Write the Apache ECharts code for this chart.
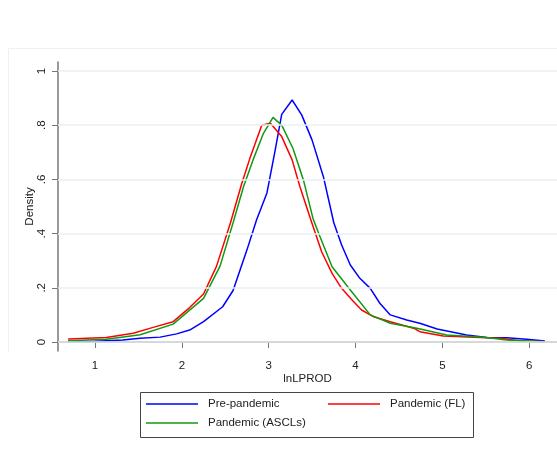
<!DOCTYPE html>
<html>
<head>
<meta charset="utf-8">
<script src="https://cdn.jsdelivr.net/npm/echarts@6/dist/echarts.min.js"></script>
<style>html,body{margin:0;padding:0;background:#fff}#c{width:557px;height:449px}</style>
</head>
<body>
<div id="c"></div>
<script>
const xTicks = [1, 2, 3, 4, 5, 6];
const yTicks = [0, 0.2, 0.4, 0.6, 0.8, 1];
const seriesNames = ['Pre-pandemic', 'Pandemic (FL)', 'Pandemic (ASCLs)'];

const preX = [0.69,1.0,1.32,1.52,1.75,1.94,2.09,2.25,2.47,2.59,2.75,2.86,2.98,3.07,3.15,3.27,3.38,3.50,3.63,3.75,3.84,3.94,4.05,4.17,4.28,4.40,4.59,4.74,4.94,5.28,5.51,5.74,5.97,6.18];
const preY = [0.002,0.003,0.007,0.014,0.018,0.03,0.044,0.075,0.13,0.19,0.34,0.45,0.55,0.70,0.84,0.893,0.838,0.745,0.61,0.44,0.358,0.284,0.235,0.198,0.143,0.10,0.081,0.069,0.048,0.026,0.017,0.016,0.01,0.004];

const flX = [0.69,1.13,1.44,1.67,1.90,2.09,2.25,2.40,2.56,2.69,2.79,2.92,3.02,3.15,3.27,3.36,3.48,3.61,3.73,3.84,3.96,4.07,4.21,4.40,4.67,4.74,5.01,5.44,5.67,5.90,6.18];
const flY = [0.011,0.017,0.032,0.054,0.075,0.127,0.177,0.28,0.44,0.585,0.684,0.80,0.807,0.758,0.672,0.573,0.456,0.333,0.253,0.198,0.155,0.118,0.093,0.075,0.051,0.038,0.022,0.017,0.014,0.004,0.001];

const ascX = [0.69,1.13,1.52,1.90,2.25,2.44,2.59,2.71,2.82,2.94,3.05,3.15,3.28,3.40,3.51,3.59,3.73,3.94,4.17,4.40,4.72,5.05,5.51,5.74,6.18];
const ascY = [0.005,0.01,0.027,0.066,0.161,0.28,0.44,0.573,0.672,0.77,0.829,0.80,0.714,0.598,0.456,0.389,0.278,0.192,0.10,0.069,0.05,0.026,0.017,0.007,0.001];

const colors = ['#0000ff', '#ff0000', '#119911'];
const FONT = 'Liberation Sans, Arial, sans-serif';

function pairs(xs, ys) { return xs.map((x, i) => [x, ys[i]]); }

const chart = echarts.init(document.getElementById('c'), null, {renderer: 'canvas'});

function legendFor(name, left, top) {
  return {
    data: [name], left: left, top: top, padding: 0, orient: 'horizontal',
    icon: 'rect', itemWidth: 52, itemHeight: 1.5, itemGap: 0,
    selectedMode: false,
    textStyle: {fontFamily: FONT, fontSize: 11.5, color: '#222', padding: [0, 0, 0, 5]}
  };
}

chart.setOption({
  animation: false,
  backgroundColor: '#ffffff',
  color: colors,
  grid: {left: 58, right: 0, top: 62, bottom: 98, containLabel: false},
  xAxis: {
    type: 'value', min: 0.574, max: 6.32,
    name: 'lnLPROD', nameLocation: 'middle', nameGap: 22, nameMoveOverlap: false,
    nameTextStyle: {fontFamily: FONT, fontSize: 11.5, color: '#222'},
    axisLine: {show: true, lineStyle: {color: '#777', width: 1.5}},
    axisTick: {show: true, customValues: xTicks, length: 6, lineStyle: {color: '#777'}},
    axisLabel: {customValues: xTicks, margin: 9, fontFamily: FONT, fontSize: 11.5, color: '#222'},
    splitLine: {show: false}
  },
  yAxis: {
    type: 'value', min: -0.0332, max: 1.0332,
    name: 'Density', nameLocation: 'middle', nameGap: 22, nameMoveOverlap: false,
    nameTextStyle: {fontFamily: FONT, fontSize: 11.5, color: '#222'},
    axisLine: {show: true, lineStyle: {color: '#777', width: 1.5}},
    axisTick: {show: true, customValues: yTicks, length: 6, lineStyle: {color: '#777'}},
    axisLabel: {
      customValues: yTicks, rotate: 90, margin: 10, fontFamily: FONT, fontSize: 11.5, color: '#222',
      formatter: function (v) {
        if (Math.abs(v) < 1e-9) return '0';
        if (Math.abs(v - 1) < 1e-9) return '1';
        return '.' + Math.round(v * 10);
      }
    },
    splitLine: {show: false}
  },
  legend: [
    legendFor(seriesNames[0], 146, 398),
    legendFor(seriesNames[1], 328, 398),
    legendFor(seriesNames[2], 146, 417)
  ],
  graphic: [
    {type: 'rect', shape: {x: 140.5, y: 392.5, width: 333, height: 45}, style: {fill: 'none', stroke: '#444', lineWidth: 1}, z: 0},
    {type: 'polyline', shape: {points: [[8.5, 352], [8.5, 48.5], [557, 48.5]]}, style: {fill: 'none', stroke: '#f0f0f0', lineWidth: 1}, z: 0}
  ],
  series: [
    {
      type: 'line', name: '_grid', data: [], z: 1, silent: true,
      markLine: {
        silent: true, symbol: 'none', animation: false,
        label: {show: false},
        lineStyle: {color: '#e9efef', width: 1.5, type: 'solid'},
        data: yTicks.map(v => ({yAxis: v}))
      }
    },
    {type: 'line', name: seriesNames[0], data: pairs(preX, preY), showSymbol: false, smooth: false, z: 3,
     lineStyle: {color: colors[0], width: 1.5}, itemStyle: {color: colors[0]}},
    {type: 'line', name: seriesNames[1], data: pairs(flX, flY), showSymbol: false, smooth: false, z: 3,
     lineStyle: {color: colors[1], width: 1.5}, itemStyle: {color: colors[1]}},
    {type: 'line', name: seriesNames[2], data: pairs(ascX, ascY), showSymbol: false, smooth: false, z: 3,
     lineStyle: {color: colors[2], width: 1.5}, itemStyle: {color: colors[2]}}
  ]
});
</script>
</body>
</html>
